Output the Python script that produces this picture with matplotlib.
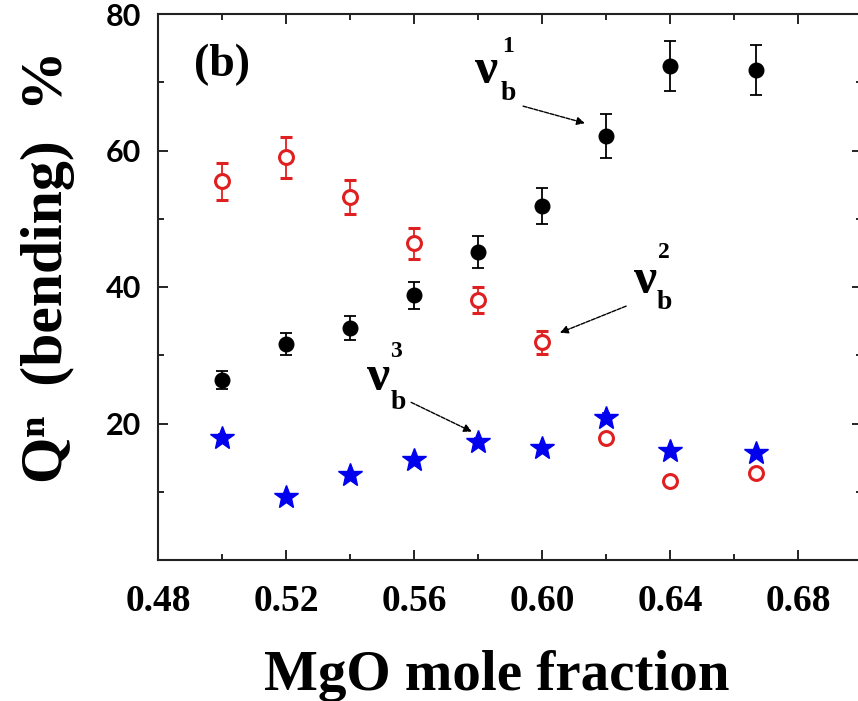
import numpy as np
import matplotlib
matplotlib.use("Agg")
import matplotlib.pyplot as plt
from matplotlib.ticker import MultipleLocator

# MgO mole fraction
x_mgo = [0.50, 0.52, 0.54, 0.56, 0.58, 0.60, 0.62, 0.64, 0.667]

# nu_b^1 (black, filled)
q_nu1 = [26.4, 31.6, 34.0, 38.8, 45.1, 51.9, 62.1, 72.4, 71.8]
err_nu1 = [1.3, 1.6, 1.8, 2.0, 2.3, 2.6, 3.2, 3.7, 3.6]

# nu_b^2 (red, open)
q_nu2 = [55.5, 59.0, 53.2, 46.4, 38.1, 31.9, 17.9, 11.6, 12.7]
err_nu2 = [2.7, 3.0, 2.5, 2.3, 1.9, 1.7, 0.5, 0.5, 0.5]

# nu_b^3 (blue, stars)
q_nu3 = [17.9, 9.2, 12.5, 14.7, 17.3, 16.4, 20.8, 16.0, 15.7]
err_nu3 = [0.6, 0.4, 0.4, 0.4, 0.6, 0.4, 0.7, 0.4, 0.4]

serif = "Liberation Serif"

fig = plt.figure(figsize=(8.58, 7.01), dpi=100)
ax = fig.add_axes([158 / 858, 141 / 701, 704 / 858, 546 / 701])

ax.errorbar(x_mgo, q_nu1, yerr=err_nu1, fmt="o", color="black", ms=10.5,
            ecolor="black", elinewidth=1.3, capsize=4.5, capthick=1.3, zorder=3)
ax.errorbar(x_mgo, q_nu2, yerr=err_nu2, fmt="o", color="#e02020", ms=10,
            mfc="white", mec="#e02020", mew=2.2, ecolor="#e02020",
            elinewidth=1.3, capsize=4.5, capthick=1.3, zorder=3)
ax.errorbar(x_mgo, q_nu3, yerr=err_nu3, fmt="*", color="#0000ee", ms=18,
            ecolor="#0000ee", elinewidth=1.2, capsize=3, capthick=1.2, zorder=3)

ax.set_xlim(0.48, 0.70)
ax.set_ylim(0, 80)
ax.xaxis.set_minor_locator(MultipleLocator(0.02))
ax.set_xticks([0.48, 0.52, 0.56, 0.60, 0.64, 0.68])
ax.set_xticklabels(["0.48", "0.52", "0.56", "0.60", "0.64", "0.68"])
ax.set_yticks([20, 40, 60, 80])
ax.yaxis.set_minor_locator(MultipleLocator(10))

ax.tick_params(which="both", direction="in", top=True, right=True, width=1.2)
ax.tick_params(which="major", length=7)
ax.tick_params(which="minor", length=4)
ax.tick_params(axis="x", pad=17)
ax.tick_params(axis="y", pad=12)
for lab in ax.get_xticklabels():
    lab.set_fontfamily(serif)
    lab.set_fontweight("bold")
    lab.set_fontsize(27)
for lab in ax.get_yticklabels():
    lab.set_fontfamily("Lato")
    lab.set_fontweight("bold")
    lab.set_fontsize(22)

for s in ax.spines.values():
    s.set_linewidth(1.5)
    s.set_color("#222222")

ax.set_xlabel("MgO mole fraction", fontfamily=serif, fontweight="bold", fontsize=41)
ax.xaxis.label.set_va("baseline")
ax.xaxis.set_label_coords(0.4815, -0.238)
ax.set_ylabel("Q\u207f  (bending)  %", fontfamily=serif, fontweight="bold", fontsize=43)
ax.yaxis.set_label_coords(-0.118, 0.538)

ax.text(0.50, 72.5, "(b)", fontfamily=serif, fontweight="bold", fontsize=33,
        ha="center", va="center")

# nu labels: (v position, superscript position, subscript position, digit)
nu_labels = [
    ((0.5828, 71.6), (0.5894, 75.3), (0.5894, 68.3), "1"),
    ((0.6322, 40.9), (0.6381, 45.1), (0.6381, 37.8), "2"),
    ((0.5488, 26.7), (0.5544, 30.5), (0.5550, 23.1), "3"),
]
for vpos, suppos, subpos, digit in nu_labels:
    ax.text(*vpos, "\u03bd", fontfamily=serif, fontweight="bold", fontsize=37,
            ha="center", va="center")
    ax.text(*suppos, digit, fontfamily=serif, fontweight="bold", fontsize=17,
            ha="center", va="center")
    ax.text(*subpos, "b", fontfamily=serif, fontweight="bold", fontsize=20,
            ha="center", va="center")

arrows = [
    ((0.5941, 66.5), (0.6134, 64.0)),
    ((0.6263, 37.2), (0.6056, 33.3)),
    ((0.5591, 23.1), (0.5781, 18.8)),
]
for start, end in arrows:
    ax.annotate("", xy=end, xytext=start,
                arrowprops=dict(arrowstyle="-|>", color="black", lw=1.0,
                                linestyle=(0, (3, 1)), mutation_scale=12,
                                shrinkA=0, shrinkB=0))

fig.savefig("out.png", dpi=100)
